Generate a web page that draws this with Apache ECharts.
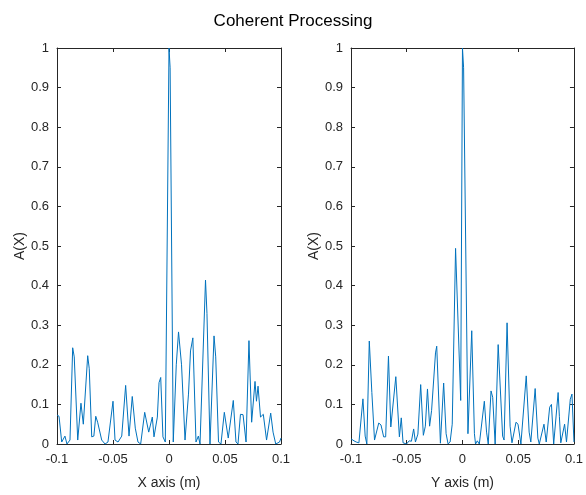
<!DOCTYPE html>
<html>
<head>
<meta charset="utf-8">
<script src="https://cdn.jsdelivr.net/npm/echarts@6/dist/echarts.min.js"></script>
<style>
  html, body { margin: 0; padding: 0; background: #ffffff; }
  #chart { width: 586px; height: 495px; }
</style>
</head>
<body>
<div id="chart"></div>
<script>
// Ambiguity function cuts along X and Y (metres vs normalised amplitude)
const xPosX = [
  -0.1, -0.0982, -0.0958, -0.0942, -0.0929, -0.0911, -0.0884, -0.086, -0.0846, -0.0815,
  -0.0786, -0.0765, -0.0726, -0.0712, -0.069, -0.0671, -0.0654, -0.0637, -0.0601, -0.0571,
  -0.0545, -0.05, -0.0482, -0.0455, -0.0422, -0.0387, -0.0357, -0.0328, -0.0301, -0.0277,
  -0.0253, -0.0217, -0.0181, -0.0167, -0.0149, -0.0134, -0.0104, -0.0089, -0.0074, -0.0054,
  -0.0033, 0, 0.001, 0.0038, 0.0065, 0.0085, 0.0112, 0.0143, 0.0174, 0.0192,
  0.0213, 0.0241, 0.0262, 0.0277, 0.0286, 0.0326, 0.0339, 0.0366, 0.0402, 0.0417,
  0.0442, 0.0464, 0.0494, 0.0509, 0.0529, 0.0545, 0.0574, 0.0598, 0.0616, 0.0638,
  0.0661, 0.0688, 0.0714, 0.0738, 0.0768, 0.0781, 0.0795, 0.0817, 0.0842, 0.0871,
  0.0908, 0.0929, 0.0953, 0.0987, 0.1
];
const ampX = [
  0.073, 0.07, 0.005, 0.01, 0.02, 0.0, 0.01, 0.243, 0.22, 0.01,
  0.103, 0.05, 0.223, 0.19, 0.018, 0.02, 0.07, 0.055, 0.01, 0.0,
  0.005, 0.108, 0.01, 0.005, 0.02, 0.148, 0.02, 0.12, 0.04, 0.005,
  0.0, 0.08, 0.03, 0.03, 0.068, 0.018, 0.068, 0.155, 0.168, 0.018,
  0.005, 1.0, 0.95, 0.005, 0.2, 0.283, 0.2, 0.01, 0.126, 0.235,
  0.268, 0.005, 0.02, 0.0, 0.0, 0.414, 0.33, 0.0, 0.273, 0.22,
  0.005, 0.0, 0.08, 0.083, 0.015, 0.015, 0.11, 0.005, 0.0, 0.075,
  0.074, 0.005, 0.261, 0.055, 0.158, 0.108, 0.146, 0.068, 0.075, 0.01,
  0.078, 0.03, 0.0, 0.005, 0.015
];

const xPosY = [
  -0.1, -0.0973, -0.0953, -0.0929, -0.0893, -0.0873, -0.0858, -0.0836, -0.0813, -0.0789,
  -0.0773, -0.0751, -0.0731, -0.0707, -0.0689, -0.0664, -0.0643, -0.0598, -0.0566, -0.0549,
  -0.0533, -0.0502, -0.0478, -0.0458, -0.0438, -0.0422, -0.04, -0.0375, -0.0351, -0.0333,
  -0.0314, -0.0295, -0.0277, -0.0262, -0.0242, -0.0231, -0.0198, -0.0169, -0.0147, -0.0129,
  -0.0111, -0.0092, -0.0062, -0.0016, 0, 0.001, 0.0049, 0.0083, 0.0107, 0.0117,
  0.0133, 0.0151, 0.0196, 0.0216, 0.0231, 0.0256, 0.0271, 0.0293, 0.032, 0.0333,
  0.036, 0.0373, 0.04, 0.0427, 0.0444, 0.048, 0.0498, 0.0524, 0.0572, 0.0598,
  0.0613, 0.0652, 0.0676, 0.0689, 0.0731, 0.0751, 0.0782, 0.0798, 0.0818, 0.0858,
  0.0869, 0.0882, 0.0916, 0.0933, 0.0967, 0.0982, 0.1
];
const ampY = [
  0.013, 0.008, 0.005, 0.003, 0.114, 0.02, 0.0, 0.26, 0.13, 0.01,
  0.005, 0.053, 0.048, 0.018, 0.018, 0.222, 0.043, 0.17, 0.018, 0.066,
  0.003, 0.0, 0.008, 0.007, 0.038, 0.005, 0.025, 0.15, 0.022, 0.045,
  0.139, 0.045, 0.085, 0.087, 0.23, 0.247, 0.002, 0.154, 0.026, 0.0,
  0.005, 0.05, 0.494, 0.11, 1.0, 0.95, 0.026, 0.286, 0.026, 0.0,
  0.008, 0.0, 0.108, 0.03, 0.0, 0.134, 0.118, 0.0, 0.251, 0.247,
  0.02, 0.01, 0.306, 0.045, 0.003, 0.055, 0.05, 0.0, 0.172, 0.03,
  0.005, 0.14, 0.015, 0.0, 0.05, 0.005, 0.093, 0.1, 0.0, 0.13,
  0.07, 0.003, 0.05, 0.005, 0.113, 0.126, 0.005
];

const xAxisNames = ['X axis (m)', 'Y axis (m)'];
const yAxisName = 'A(X)';
const chartTitle = 'Coherent Processing';

const INK = '#262626';
const LINE = '#0072BD';
const FONT = '"Liberation Sans", Arial, Helvetica, sans-serif';

const pairs = (xs, ys) => xs.map((x, i) => [x, ys[i]]);

const grids = [
  { left: 57, top: 48, width: 224, height: 399 },
  { left: 351, top: 48, width: 225, height: 399 }
];

function xAxes(g) {
  const base = {
    gridIndex: g, type: 'value', min: -0.1, max: 0.1, interval: 0.05,
    axisLine: { show: true, onZero: false, lineStyle: { color: INK, width: 1 } },
    axisTick: { show: true, inside: true, length: 4, lineStyle: { color: INK } },
    splitLine: { show: false }
  };
  return [
    Object.assign({}, base, {
      position: 'bottom',
      name: xAxisNames[g], nameLocation: 'middle', nameGap: 32,
      nameTextStyle: { color: INK, fontSize: 14, fontFamily: FONT },
      axisLabel: { color: INK, fontSize: 13, fontFamily: FONT, margin: 9 }
    }),
    Object.assign({}, base, { position: 'top', axisLabel: { show: false } })
  ];
}

function yAxes(g) {
  const base = {
    gridIndex: g, type: 'value', min: 0, max: 1, interval: 0.1,
    axisLine: { show: true, onZero: false, lineStyle: { color: INK, width: 1 } },
    axisTick: { show: true, inside: true, length: 4, lineStyle: { color: INK } },
    splitLine: { show: false }
  };
  return [
    Object.assign({}, base, {
      position: 'left',
      name: yAxisName, nameLocation: 'middle', nameGap: 26,
      nameTextStyle: { color: INK, fontSize: 14, fontFamily: FONT },
      axisLabel: { color: INK, fontSize: 13, fontFamily: FONT, margin: 8 }
    }),
    Object.assign({}, base, { position: 'right', axisLabel: { show: false } })
  ];
}

const chart = echarts.init(document.getElementById('chart'), null, { renderer: 'canvas' });
chart.setOption({
  backgroundColor: '#ffffff',
  animation: false,
  textStyle: { fontFamily: FONT },
  title: {
    text: chartTitle, left: 'center', top: 8,
    textStyle: { color: '#000000', fontSize: 17, fontWeight: 'normal', fontFamily: FONT }
  },
  grid: grids,
  xAxis: [...xAxes(0), ...xAxes(1)],
  yAxis: [...yAxes(0), ...yAxes(1)],
  series: [
    {
      type: 'line', xAxisIndex: 0, yAxisIndex: 0,
      data: pairs(xPosX, ampX), showSymbol: false, symbol: 'none',
      lineStyle: { color: LINE, width: 1 }
    },
    {
      type: 'line', xAxisIndex: 2, yAxisIndex: 2,
      data: pairs(xPosY, ampY), showSymbol: false, symbol: 'none',
      lineStyle: { color: LINE, width: 1 }
    }
  ]
});
</script>
</body>
</html>
